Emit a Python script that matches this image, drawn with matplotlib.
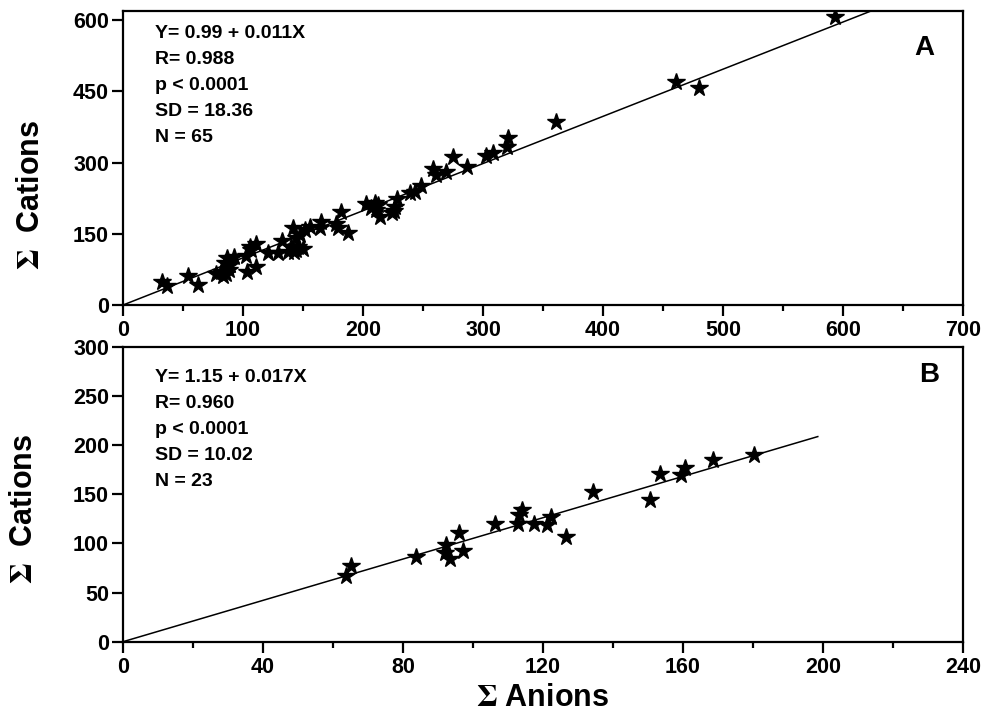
import matplotlib
matplotlib.use("Agg")
import matplotlib.pyplot as plt
from matplotlib.ticker import MultipleLocator
import numpy as np

plt.rcParams["font.family"] = ["Liberation Sans", "DejaVu Sans"]
plt.rcParams["font.weight"] = "bold"
plt.rcParams["mathtext.fontset"] = "stix"

# Panel A: sum of anions vs sum of cations (N = 65)
anions_a = [
    32.8, 36.7, 54.4, 62.2, 77.8, 83.3, 84.7, 86.7, 88.3, 92.2,
    86.1, 102.2, 103.3, 105.6, 111.1, 111.1, 120.8, 129.2, 132.8, 137.5,
    141.7, 142.2, 144.4, 145.8, 150.0, 151.4, 155.6, 165.3, 164.4, 179.2,
    181.9, 187.5, 202.8, 209.7, 211.1, 214.4, 224.4, 226.4, 228.3, 238.9,
    243.0, 248.6, 258.0, 260.8, 269.2, 274.7, 286.4, 302.5, 308.6, 319.7,
    321.0, 360.8, 460.8, 480.0, 593.0, 89.4, 81.9, 106.9, 140.3, 144.4,
    147.2, 177.8, 206.9, 212.5, 225.6,
]
cations_a = [
    49.1, 40.0, 61.1, 42.2, 65.3, 61.1, 87.7, 98.2, 74.0, 101.8,
    65.3, 103.2, 70.2, 122.8, 128.4, 79.3, 110.2, 108.8, 135.4, 112.3,
    161.4, 112.3, 140.4, 122.8, 117.2, 157.9, 163.5, 175.4, 161.4, 161.4,
    196.5, 152.3, 212.6, 215.4, 200.0, 184.6, 193.0, 207.0, 222.5, 236.5,
    238.6, 250.5, 285.6, 273.7, 280.7, 312.0, 291.0, 313.7, 319.0, 333.0,
    351.0, 386.0, 470.0, 456.0, 607.0, 84.9, 70.2, 115.8, 122.8, 115.8,
    147.4, 170.2, 203.5, 210.5, 198.6,
]
fit_a_slope = 0.993
fit_a_xrange = [0, 640]
stats_a = ["Y= 0.99 + 0.011X", "R= 0.988", "p < 0.0001", "SD = 18.36", "N = 65"]

# Panel B (N = 23)
anions_b = [
    65.0, 63.8, 83.7, 92.4, 91.9, 93.4, 96.0, 97.2, 106.2, 112.8,
    113.1, 114.1, 117.4, 121.2, 122.4, 126.6, 134.4, 150.6, 153.4, 159.4,
    160.6, 168.6, 180.2,
]
cations_b = [
    77.3, 67.1, 85.8, 98.3, 89.8, 84.1, 110.2, 92.5, 119.7, 119.7,
    129.2, 134.2, 119.7, 118.6, 127.1, 106.8, 152.9, 144.1, 170.5, 169.5,
    177.3, 185.1, 190.2,
]
fit_b_slope = 1.052
fit_b_xrange = [0, 198.5]
stats_b = ["Y= 1.15 + 0.017X", "R= 0.960", "p < 0.0001", "SD = 10.02", "N = 23"]

fig = plt.figure(figsize=(9.84, 7.13), dpi=100)
ax_a = fig.add_axes([0.125, 0.5722, 0.8537, 0.4124])
ax_b = fig.add_axes([0.125, 0.1000, 0.8537, 0.4133])


def style_axes(ax, xmax, xmajor, xminor, ymax, ymajor, ytop):
    ax.set_xlim(0, xmax)
    ax.set_ylim(0, ytop)
    ax.xaxis.set_major_locator(MultipleLocator(xmajor))
    ax.xaxis.set_minor_locator(MultipleLocator(xminor))
    ax.set_yticks(np.arange(0, ymax + 1, ymajor))
    for side in ax.spines.values():
        side.set_linewidth(1.6)
    ax.tick_params(axis="both", which="major", direction="out", length=8,
                   width=1.6, labelsize=15.5, pad=2)
    ax.tick_params(axis="x", which="major", pad=3)
    ax.tick_params(axis="x", which="minor", direction="out", length=4.5,
                   width=1.6)
    for lab in ax.get_xticklabels() + ax.get_yticklabels():
        lab.set_fontweight("bold")


def stats_block(ax, lines, top):
    # one text per line so the spacing follows the reference (26 px)
    step = 26 / (ax.get_position().height * fig.bbox.height)
    for i, line in enumerate(lines):
        ax.text(0.038, top - i * step, line, transform=ax.transAxes,
                fontsize=14, fontweight="bold", va="center", ha="left")


# ---- panel A
xa = np.array(fit_a_xrange, dtype=float)
ax_a.plot(xa, fit_a_slope * xa, color="black", linewidth=1.1, zorder=2)
ax_a.plot(anions_a, cations_a, linestyle="none", marker="*", markersize=13,
          color="black", zorder=3)
style_axes(ax_a, 700, 100, 50, 600, 150, 619)
ax_a.set_ylabel(r"$\Sigma$  Cations", fontsize=22, fontweight="bold")
ax_a.yaxis.set_label_coords(-0.092, 0.374)
stats_block(ax_a, stats_a, 0.925)
ax_a.text(0.954, 0.874, "A", transform=ax_a.transAxes, fontsize=20,
          fontweight="bold", ha="center", va="center")

# ---- panel B
xb = np.array(fit_b_xrange, dtype=float)
ax_b.plot(xb, fit_b_slope * xb, color="black", linewidth=1.1, zorder=2)
ax_b.plot(anions_b, cations_b, linestyle="none", marker="*", markersize=13,
          color="black", zorder=3)
style_axes(ax_b, 240, 40, 20, 300, 50, 300)
ax_b.set_ylabel(r"$\Sigma$  Cations", fontsize=22, fontweight="bold")
ax_b.yaxis.set_label_coords(-0.1, 0.45)
ax_b.set_xlabel(r"$\Sigma$ Anions", fontsize=22, fontweight="bold")
ax_b.xaxis.set_label_coords(0.5, -0.14)
stats_block(ax_b, stats_b, 0.898)
ax_b.text(0.96, 0.904, "B", transform=ax_b.transAxes, fontsize=20,
          fontweight="bold", ha="center", va="center")

fig.savefig("out.png", dpi=100)
